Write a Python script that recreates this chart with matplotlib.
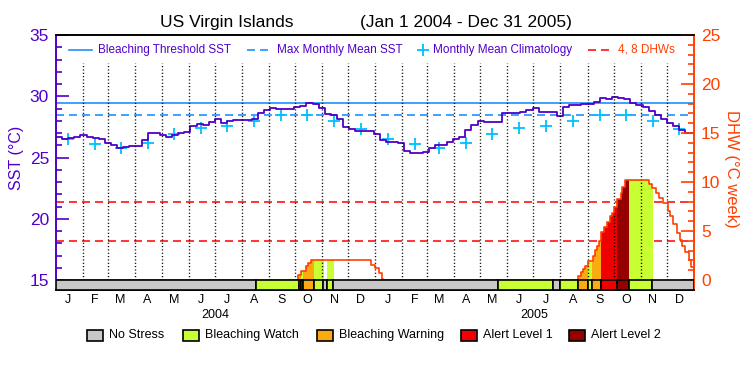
import numpy as np
import pandas as pd
import matplotlib
matplotlib.use('Agg')
import matplotlib.pyplot as plt
import matplotlib.dates as mdates
import matplotlib.transforms as mtransforms
from matplotlib.patches import Rectangle
from matplotlib.lines import Line2D

plt.rcParams['font.family'] = ['Liberation Sans', 'DejaVu Sans']

# weekly SST (deg C), starting Jan 1 2004
sst = [26.70, 26.52, 26.57, 26.68, 26.80, 26.70, 26.62, 26.47, 26.20, 26.02,
       25.80, 25.88, 25.95, 25.96, 26.40, 26.98, 26.96, 26.80, 26.70, 26.86,
       27.00, 27.05, 27.60, 27.76, 27.66, 27.93, 28.12, 27.79, 27.98, 28.09,
       28.09, 28.09, 28.15, 28.67, 28.85, 29.08, 28.94, 28.94, 28.95, 29.10,
       29.20, 29.45, 29.40, 29.01, 28.55, 28.50, 28.17, 27.52, 27.33, 27.18,
       27.20, 27.18, 26.90, 26.43, 26.29, 26.29, 26.16, 25.53, 25.34, 25.34,
       25.42, 25.75, 26.02, 26.02, 26.29, 26.48, 26.65, 27.24, 27.65, 28.00,
       27.90, 27.88, 27.88, 28.66, 28.66, 28.66, 28.74, 28.88, 29.01, 28.74,
       28.74, 28.69, 28.41, 29.15, 29.26, 29.29, 29.37, 29.37, 29.53, 29.83,
       29.75, 29.91, 29.83, 29.75, 29.48, 29.29, 29.15, 28.82, 28.47, 28.14,
       27.84, 27.57, 27.24, 26.98, 27.00]

# monthly mean climatology (Jan..Dec)
clim = [26.48, 26.10, 25.75, 26.16, 26.89, 27.43, 27.57, 28.00, 28.47, 28.47, 28.00, 27.30]
mmm = 28.46
threshold = mmm + 1.0

# degree heating weeks (step changes)
dhw_dates = ['2004-01-01', '2004-10-04', '2004-10-08', '2004-10-13', '2004-10-16',
             '2004-10-19', '2004-12-27', '2005-01-01', '2005-01-05', '2005-01-09',
             '2005-01-10', '2005-08-21', '2005-08-24', '2005-08-27', '2005-08-29',
             '2005-09-01', '2005-09-07', '2005-09-09', '2005-09-12', '2005-09-14',
             '2005-09-17', '2005-09-20', '2005-09-23', '2005-09-27', '2005-09-29',
             '2005-10-01', '2005-10-05', '2005-10-09', '2005-10-11', '2005-10-14',
             '2005-11-11', '2005-11-14', '2005-11-18', '2005-11-22', '2005-11-27',
             '2005-12-02', '2005-12-05', '2005-12-08', '2005-12-13', '2005-12-16',
             '2005-12-18', '2005-12-22', '2005-12-26', '2005-12-28', '2006-01-01']
dhw = [0, 0.52, 0.96, 1.44, 1.72,
       2.06, 1.55, 1.20, 0.69, 0.07,
       0, 0.41, 0.86, 1.13, 1.44,
       1.89, 2.41, 3.09, 3.44, 3.95,
       4.90, 5.40, 5.90, 6.50, 6.87,
       7.45, 8.30, 8.90, 9.50, 10.24,
       9.80, 9.35, 8.87, 8.32, 7.90,
       7.07, 6.53, 5.67, 4.81, 4.12,
       3.50, 2.82, 2.06, 1.37, 1.37]

# stress level periods
status_start = ['2004-01-01', '2004-08-17', '2004-10-05', '2004-10-08', '2004-10-10',
                '2004-10-23', '2004-11-02', '2004-11-06', '2004-11-13', '2005-05-22',
                '2005-07-24', '2005-07-31', '2005-08-21', '2005-09-02', '2005-09-06',
                '2005-09-17', '2005-10-05', '2005-10-18', '2005-11-14']
status_level = [0, 1, 2, 1, 2, 1, 0, 1, 0, 1, 0, 1, 2, 1, 2, 3, 4, 1, 0]
status_names = ['No Stress', 'Bleaching Watch', 'Bleaching Warning', 'Alert Level 1', 'Alert Level 2']
status_colors = ['#c8c8c8', '#c8ff32', '#fcaa12', '#f00000', '#960000']

months = ['J', 'F', 'M', 'A', 'M', 'J', 'J', 'A', 'S', 'O', 'N', 'D']
years = ['2004', '2005']

purple = '#5000c8'
orange = '#ff4000'
blue = '#1e90ff'
cyan = '#00c0ff'

def dn(d):
    return mdates.date2num(pd.to_datetime(d))

x0, x1 = dn('2004-01-01'), dn('2006-01-01')
sst_x = dn(pd.date_range('2004-01-01', periods=len(sst), freq='7D'))
sst_x = np.append(sst_x, x1)
sst_y = sst + [sst[-1]]
dhw_x = dn(dhw_dates)
mid_months = dn([f'{y}-{m:02d}-15' for y in years for m in range(1, 13)])
month_starts = dn([f'{y}-{m:02d}-01' for y in years for m in range(1, 13)])[1:]
stat_x = list(dn(status_start)) + [x1]

fig = plt.figure(figsize=(7.5, 3.75), dpi=100)
ax = fig.add_axes([56/750, 1-290/375, 638/750, 255/375])
ax2 = ax.twinx()
ax.set_xlim(x0, x1)
sst_lo = 15 - 10/12.25
dhw_lo = -10/9.8
ax.set_ylim(sst_lo, 35)
ax2.set_ylim(dhw_lo, 25)

# SST panel
ax.axhline(threshold, color=blue, lw=1.2, zorder=2)
ax.axhline(mmm, color=blue, lw=1.2, ls=(0, (4.8, 3)), zorder=2)
ax.plot(mid_months, clim * 2, '+', color=cyan, ms=9, mew=1.3, zorder=3)
ax.plot(sst_x, sst_y, drawstyle='steps-post', color=purple, lw=1.3, zorder=4)

# DHW panel
for v in [4, 8]:
    ax2.axhline(v, color='#ff1010', lw=1.2, ls=(0, (4.8, 3)), zorder=0.5)
for i, lv in enumerate(status_level):
    s, e = stat_x[i], stat_x[i+1]
    if lv > 0:
        poly = ax2.fill_between(dhw_x, 0, dhw, step='post', color=status_colors[lv], lw=0, zorder=1)
        poly.set_clip_path(Rectangle((s, 0), e - s, 30, transform=ax2.transData))
    ax2.add_patch(Rectangle((s, dhw_lo), e - s, -dhw_lo, facecolor=status_colors[lv],
                            edgecolor='black', lw=1.2, zorder=5))
ax2.plot(dhw_x, dhw, drawstyle='steps-post', color=orange, lw=1.2, zorder=4)
ax2.vlines(month_starts, 0, 22.1, colors='black', linestyles=(0, (0.8, 1.6)), lw=1, zorder=3)

# axes styling
for a in [ax, ax2]:
    a.spines['left'].set_color(purple)
    a.spines['right'].set_color(orange)
    a.spines['top'].set_color('black')
    a.spines['bottom'].set_color('black')
    for sp in a.spines.values():
        sp.set_linewidth(1.2)

ax.set_yticks([15, 20, 25, 30, 35])
ax.set_yticks(np.arange(15, 36, 1), minor=True)
ax.tick_params(axis='y', which='major', direction='in', length=9.5, width=1.2, color=purple,
               labelcolor=purple, labelsize=12.5, pad=5)
ax.tick_params(axis='y', which='minor', direction='in', length=4.5, width=1.2, color=purple)
ax2.set_yticks([0, 5, 10, 15, 20, 25])
ax2.set_yticks(np.arange(0, 26, 1), minor=True)
ax2.tick_params(axis='y', which='major', direction='in', length=9.5, width=1.2, color=orange,
                labelcolor=orange, labelsize=12.5, pad=5)
ax2.tick_params(axis='y', which='minor', direction='in', length=4.5, width=1.2, color=orange)

ax.set_xticks(mid_months)
ax.set_xticklabels(months * 2)
ax.tick_params(axis='x', length=0, pad=3, labelsize=9)
trans = mtransforms.blended_transform_factory(ax.transData, ax.transAxes)
for y in years:
    ax.text(dn(f'{y}-07-02'), -25/255, y, transform=trans, ha='center', va='center', fontsize=9)

# top legend
ly = 240/255
def px(p):
    return (p - 56) / 638
ax2.add_line(Line2D([px(69), px(92)], [ly, ly], color=blue, lw=1.2, transform=ax2.transAxes, clip_on=False))
ax2.text(px(98), ly, 'Bleaching Threshold SST', color=purple, fontsize=8.5, va='center', transform=ax2.transAxes)
ax2.add_line(Line2D([px(247), px(268)], [ly, ly], color=blue, lw=1.2, ls=(0, (4.8, 3)),
                    transform=ax2.transAxes, clip_on=False))
ax2.text(px(277), ly, 'Max Monthly Mean SST', color=purple, fontsize=8.5, va='center', transform=ax2.transAxes)
ax2.plot([px(423)], [ly], '+', color=cyan, ms=9, mew=1.3, transform=ax2.transAxes, clip_on=False)
ax2.text(px(433), ly, 'Monthly Mean Climatology', color=purple, fontsize=8.5, va='center', transform=ax2.transAxes)
ax2.add_line(Line2D([px(588), px(612)], [ly, ly], color='#ff1010', lw=1.2, ls=(0, (4.8, 3)),
                    transform=ax2.transAxes, clip_on=False))
ax2.text(px(618), ly, '4, 8 DHWs', color=orange, fontsize=8.5, va='center', transform=ax2.transAxes)

# bottom legend
box_x = [87, 183, 317, 461, 569]
for bx, name, c in zip(box_x, status_names, status_colors):
    fig.add_artist(Rectangle((bx/750, 1-341/375), 16/750, 11/375, facecolor=c, edgecolor='black',
                             lw=1.2, transform=fig.transFigure))
    fig.text((bx + 22)/750, 1-335/375, name, fontsize=9, va='center', ha='left')

# titles and axis labels
fig.text(227/750, 1-22/375, 'US Virgin Islands', ha='center', va='center', fontsize=12.5)
fig.text(466/750, 1-22/375, '(Jan 1 2004 - Dec 31 2005)', ha='center', va='center', fontsize=12.5)
fig.text(16/750, 1-158/375, 'SST (°C)', rotation=90, color=purple, fontsize=11.5, ha='center', va='center')
fig.text(731/750, 1-169/375, 'DHW (°C week)', rotation=-90, color=orange, fontsize=12, ha='center', va='center')

fig.savefig('out.png', dpi=100)
